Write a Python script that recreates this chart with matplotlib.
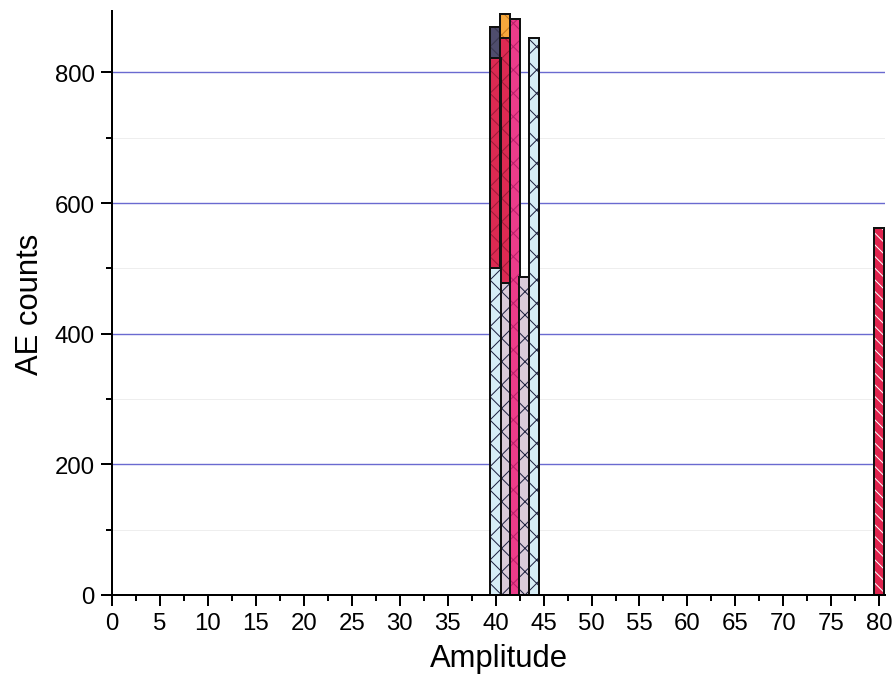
import numpy as np
import matplotlib as mpl
mpl.use('Agg')
import matplotlib.pyplot as plt
from matplotlib.ticker import MultipleLocator

DPI = 70
def pt(px):
    # pixel size -> points at this dpi
    return px * 72.0 / DPI

mpl.rc('font', family=['Liberation Sans', 'DejaVu Sans'])
mpl.rcParams['hatch.linewidth'] = pt(1.0)

# amplitude bins and the counts of each overlaid channel
amplitude = [40, 41, 42, 43, 44, 80]
slate = [870, 0, 0, 0, 0, 0]
orange = [0, 889, 0, 0, 0, 0]
pink = [0, 0, 882, 0, 0, 0]
crimson = [822, 852, 0, 0, 0, 0]
lilac = [0, 478, 0, 487, 0, 0]
sky = [500, 0, 0, 0, 852, 0]
striped = [0, 0, 0, 0, 0, 562]

x_ticks = np.arange(0, 81, 5)
y_ticks = [0, 200, 400, 600, 800]

# drawn back to front: face colour, hatch colour, hatch pattern
layers = [
    (slate, '#4f4d6d', '#3a3850', 'x'),
    (orange, '#f6a83c', '#c47a20', 'x'),
    (pink, '#ec3c8a', '#b8206a', 'x'),
    (crimson, '#dc2a52', '#a01838', 'x'),
    (lilac, '#dacbd9', '#1c2040', 'x'),
    (sky, '#d6edf6', '#1c2040', 'x'),
    (striped, '#e0244e', '#ffffff', '\\\\'),
]

fig = plt.figure(figsize=(895.0 / DPI, 682.0 / DPI), dpi=DPI)
ax = fig.add_axes([112 / 895.0, 86 / 682.0, 773 / 895.0, 584 / 682.0])

width = 1.08
amp = np.array(amplitude)
for z, (vals, face, hcol, hatch) in enumerate(layers):
    vals = np.array(vals)
    m = vals > 0
    ax.bar(amp[m], vals[m], width=width, color=face, edgecolor=hcol,
           hatch=hatch, linewidth=0, zorder=3 + 2 * z)
    ax.bar(amp[m], vals[m], width=width, fill=False, edgecolor='#111111',
           linewidth=pt(2.0), zorder=4 + 2 * z)

ax.set_xlim(0, 80.6)
ax.set_ylim(0, 894)
ax.set_xticks(x_ticks)
ax.set_yticks(y_ticks)
ax.xaxis.set_minor_locator(MultipleLocator(2.5))
ax.yaxis.set_minor_locator(MultipleLocator(100))

ax.grid(axis='y', which='major', color='#6a6ad0', linewidth=pt(1.4), zorder=1)
ax.grid(axis='y', which='minor', color='#eeeeee', linewidth=pt(1.0), zorder=1)
ax.set_axisbelow(True)

for s in ('top', 'right'):
    ax.spines[s].set_visible(False)
for s in ('left', 'bottom'):
    ax.spines[s].set_linewidth(pt(2))
    ax.spines[s].set_zorder(30)

ax.tick_params(which='major', direction='out', length=pt(11), width=pt(2),
               labelsize=pt(24), pad=pt(6))
ax.tick_params(which='minor', direction='out', length=pt(6), width=pt(2))

ax.set_xlabel('Amplitude', fontsize=pt(31), labelpad=pt(9))
ax.set_ylabel('AE counts', fontsize=pt(31), labelpad=pt(10))

fig.savefig('out.png', dpi=DPI)
